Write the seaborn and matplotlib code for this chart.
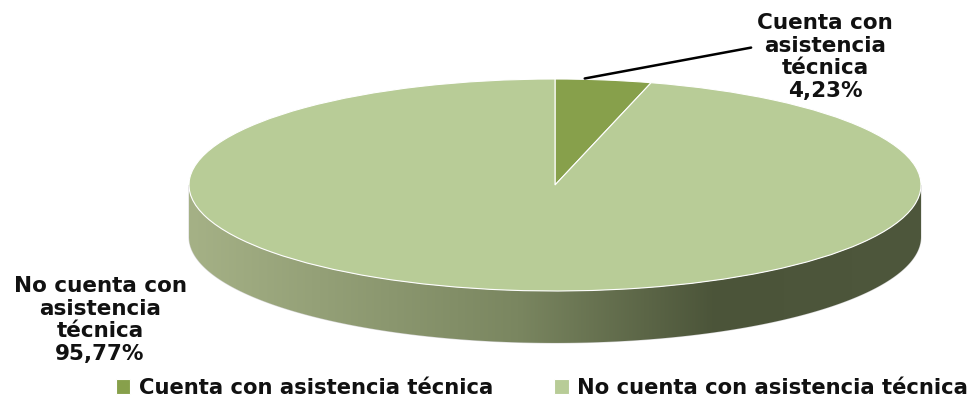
import numpy as np
import matplotlib
matplotlib.use("Agg")
import matplotlib.pyplot as plt
import seaborn as sns
from matplotlib.patches import Polygon
from matplotlib.colors import LinearSegmentedColormap

# data
categories = ["Cuenta con asistencia técnica", "No cuenta con asistencia técnica"]
label_lines = ["Cuenta con\nasistencia\ntécnica", "No cuenta con\nasistencia\ntécnica"]
values = [4.23, 95.77]
colors = ["#87a04b", "#b8cc97"]

sns.set_theme(style="white")
plt.rcParams['font.family'] = ['DejaVu Sans']

fig = plt.figure(figsize=(9.73, 4.0), dpi=100)
ax = fig.add_axes([0, 0, 1, 1])

wedges, _ = ax.pie(values, colors=colors, startangle=90, counterclock=False,
                   wedgeprops=dict(edgecolor="white", linewidth=0.8))

# stretch the pie into an ellipse (pixel based layout)
cx, cy, rx, ry = 555, 185, 366, 106
ax.set_aspect("auto")
ax.axis("off")

# side of the 3D disk
depth = 0.49
t = np.linspace(np.pi, 2 * np.pi, 200)
top = np.column_stack([np.cos(t), np.sin(t)])
bot = np.column_stack([np.cos(t[::-1]), np.sin(t[::-1]) - depth])
side = Polygon(np.vstack([top, bot]), closed=True, facecolor="none",
               edgecolor="#d8d8d8", linewidth=0.8, zorder=0)
ax.add_patch(side)
cmap = LinearSegmentedColormap.from_list(
    "side", [(0, "#a5b186"), (0.45, "#7a8660"), (0.72, "#4b5439"), (1, "#4e573c")])
grad = np.linspace(0, 1, 256).reshape(1, -1)
im = ax.imshow(grad, cmap=cmap, extent=[-1, 1, -1 - depth, 0.1], aspect="auto",
               zorder=0, origin="lower")
im.set_clip_path(side)
ax.set_xlim(-cx / rx, (973 - cx) / rx)
ax.set_ylim((cy - 400) / ry, cy / ry)

def px(x, y):
    return ((x - cx) / rx, (cy - y) / ry)

pct = [f"{v:.2f}%".replace(".", ",") for v in values]

ax.annotate(label_lines[0] + "\n" + pct[0], xy=px(582, 79), xytext=px(825, 57),
            ha="center", va="center", fontsize=15.5, fontweight="bold",
            linespacing=1.16, color="#111111",
            arrowprops=dict(arrowstyle="-", color="black", lw=1.8,
                            relpos=(0, 0.62)))
ax.text(*px(100, 320), label_lines[1] + "\n" + pct[1], ha="center", va="center",
        fontsize=15.5, fontweight="bold", linespacing=1.16, color="#111111")

leg = fig.legend(wedges, categories, loc="center", ncol=2,
                 bbox_to_anchor=(0.557, 0.03), frameon=False,
                 handlelength=0.7, handleheight=0.7, handletextpad=0.4,
                 columnspacing=2.9, prop=dict(weight="bold", size=15.2))
for txt in leg.get_texts():
    txt.set_color("#111111")

fig.savefig("out.png", dpi=100)
